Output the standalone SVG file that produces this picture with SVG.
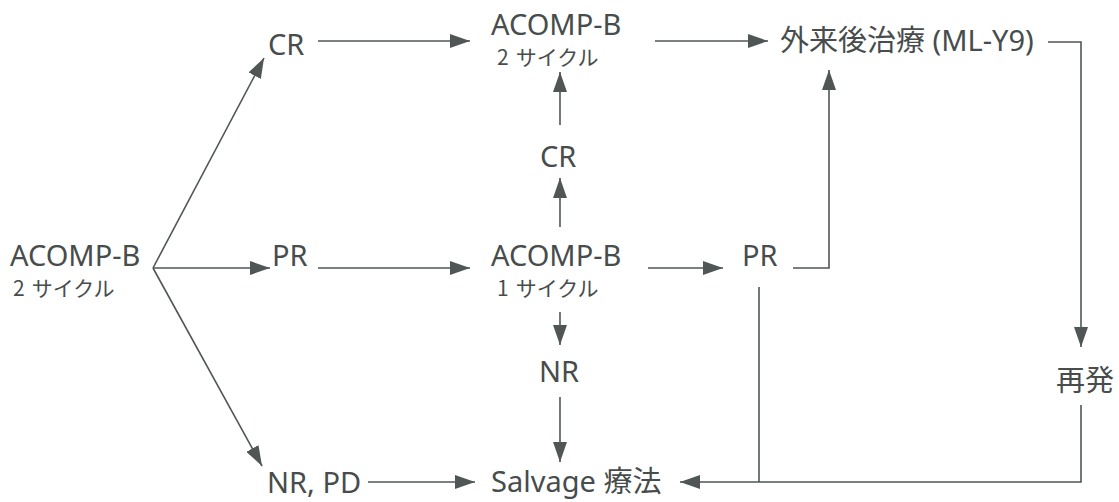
<svg xmlns="http://www.w3.org/2000/svg" width="1119" height="502" viewBox="0 0 1119 502">
  <style>
    .t { font-family: "Noto Sans", "Noto Sans CJK JP", sans-serif; font-size: 29px; fill: #474c4c; }
    .s { font-family: "Noto Sans CJK JP", "Noto Sans", sans-serif; font-size: 21px; fill: #474c4c; }
    .ln { fill: none; stroke: #505656; stroke-width: 1.6; }
    .ar { marker-end: url(#head); }
  </style>
  <defs>
    <marker id="head" markerUnits="userSpaceOnUse" markerWidth="20" markerHeight="14" refX="20" refY="7" orient="auto">
      <path d="M0,0 L20,7 L0,14 z" fill="#505656"/>
    </marker>
  </defs>

  <rect width="1119" height="502" fill="#ffffff"/>

  <g id="connectors">
    <!-- from the first ACOMP-B course -->
    <line class="ln ar" x1="153" y1="268" x2="264" y2="58"/>
    <line class="ln ar" x1="153" y1="268" x2="270" y2="268"/>
    <line class="ln ar" x1="153" y1="268" x2="262" y2="466"/>
    <!-- CR branch -->
    <line class="ln ar" x1="318" y1="41" x2="470" y2="41"/>
    <line class="ln ar" x1="655" y1="41" x2="768" y2="41"/>
    <!-- PR branch -->
    <line class="ln ar" x1="318" y1="268" x2="470" y2="268"/>
    <line class="ln ar" x1="560" y1="227" x2="560" y2="178"/>
    <line class="ln ar" x1="560" y1="125" x2="560" y2="72"/>
    <line class="ln ar" x1="648" y1="268" x2="723" y2="268"/>
    <polyline class="ln ar" points="793,268 829,268 829,70"/>
    <line class="ln ar" x1="560" y1="312" x2="560" y2="345"/>
    <line class="ln ar" x1="560" y1="397" x2="560" y2="462"/>
    <line class="ln" x1="759" y1="287" x2="759" y2="482"/>
    <!-- NR, PD branch -->
    <line class="ln ar" x1="368" y1="482" x2="475" y2="482"/>
    <!-- relapse loop -->
    <polyline class="ln ar" points="1048,42 1081,42 1081,347"/>
    <polyline class="ln ar" points="1081,405 1081,482 680,482"/>
  </g>

  <g id="acomp-start">
    <text class="t" x="10" y="266">ACOMP-B</text>
    <text class="s" x="13" y="296">2<tspan dx="7">サイクル</tspan></text>
  </g>
  <g id="cr-top">
    <text class="t" x="268" y="55">CR</text>
  </g>
  <g id="pr-left">
    <text class="t" x="272" y="266">PR</text>
  </g>
  <g id="nr-pd">
    <text class="t" x="267" y="493">NR, PD</text>
  </g>
  <g id="acomp-2cycle">
    <text class="t" x="491" y="35">ACOMP-B</text>
    <text class="s" x="497" y="65">2<tspan dx="7">サイクル</tspan></text>
  </g>
  <g id="cr-mid">
    <text class="t" x="540" y="167">CR</text>
  </g>
  <g id="acomp-1cycle">
    <text class="t" x="491" y="266">ACOMP-B</text>
    <text class="s" x="497" y="296">1<tspan dx="7">サイクル</tspan></text>
  </g>
  <g id="nr-mid">
    <text class="t" x="539" y="382">NR</text>
  </g>
  <g id="salvage">
    <text class="t" x="491" y="492">Salvage 療法</text>
  </g>
  <g id="pr-right">
    <text class="t" x="742" y="266">PR</text>
  </g>
  <g id="outpatient">
    <text class="t" x="780" y="51">外来後治療 (ML-Y9)</text>
  </g>
  <g id="relapse">
    <text class="t" x="1056" y="391">再発</text>
  </g>
</svg>
